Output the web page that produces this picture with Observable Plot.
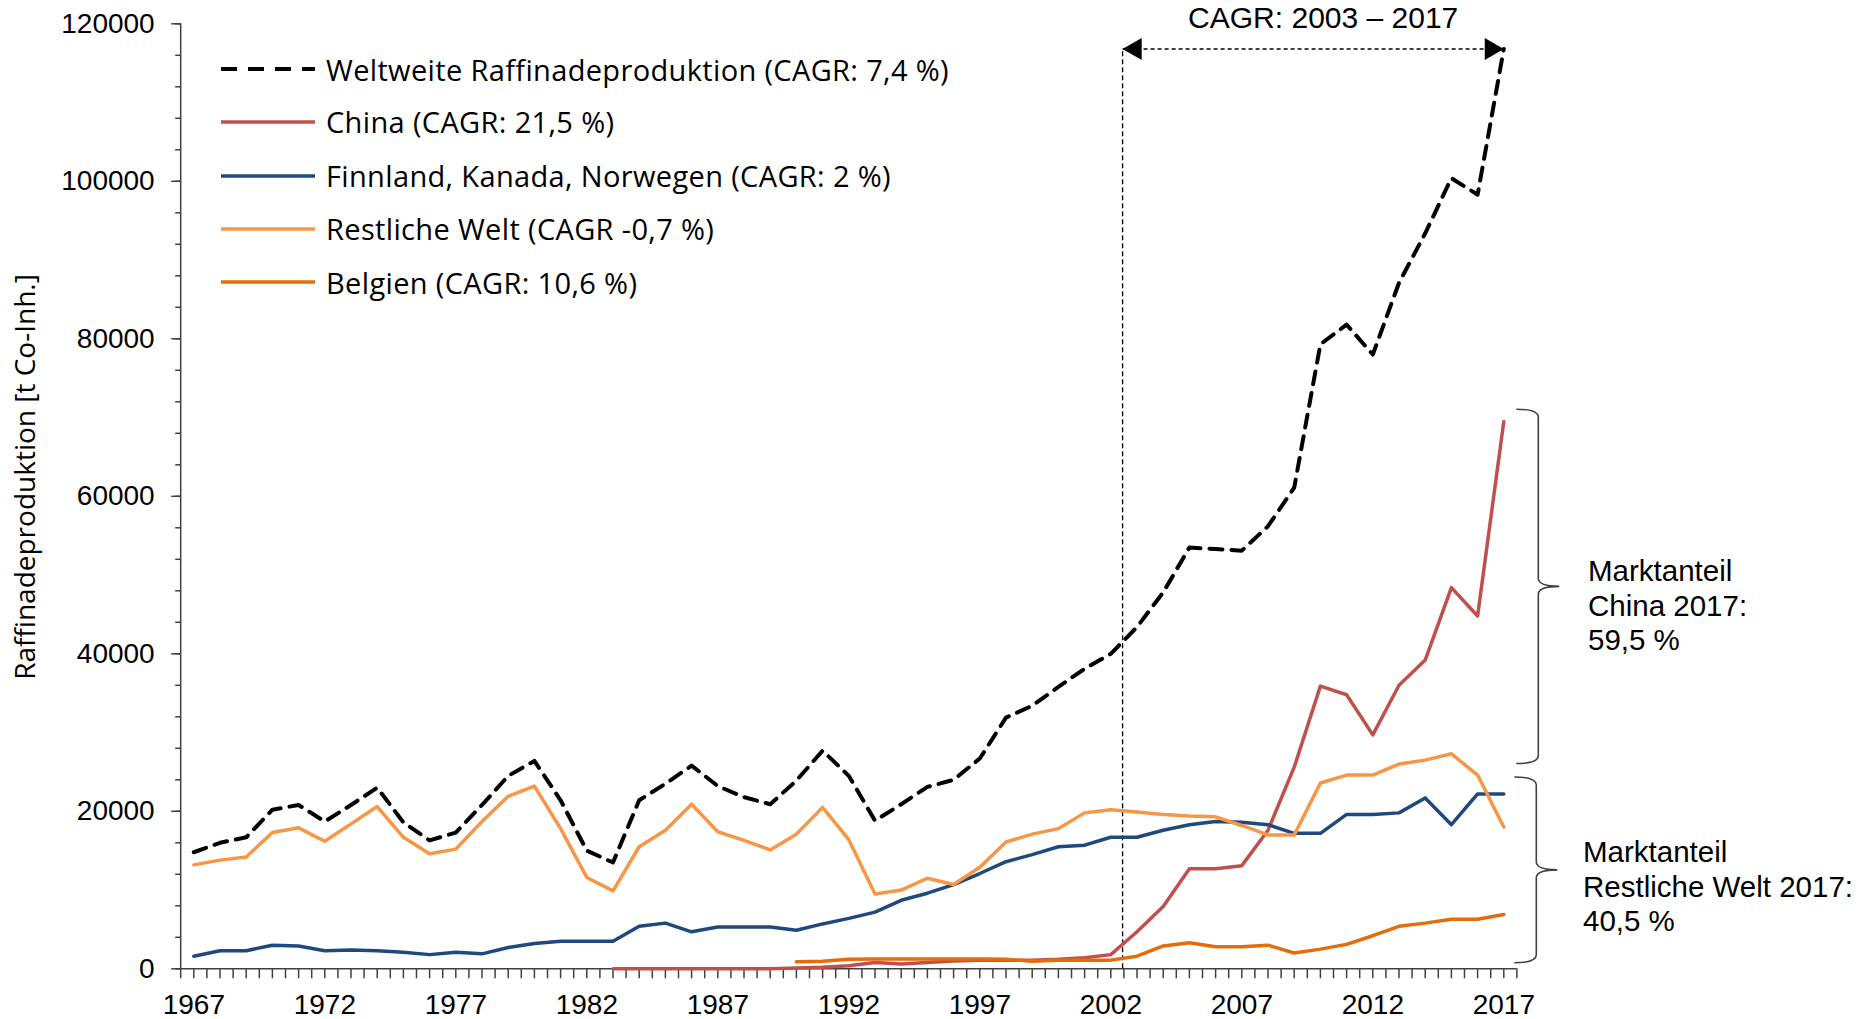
<!DOCTYPE html>
<html>
<head>
<meta charset="utf-8">
<script src="https://cdn.jsdelivr.net/npm/d3@7"></script>
<script src="https://cdn.jsdelivr.net/npm/@observablehq/plot@0.6"></script>
<style>
html, body { margin: 0; padding: 0; background: #fff; }
#wrap { position: relative; width: 1869px; height: 1019px; overflow: hidden; background: #fff; }
#wrap > svg { position: absolute; left: 0; top: 0; }
.legrow { position: absolute; left: 220px; height: 40px; display: flex; align-items: center; font-family: "Open Sans", Lato, sans-serif; font-size: 29px; letter-spacing: 0.35px; color: #000; white-space: nowrap; }
.legrow svg { margin-right: 10px; }
.note { position: absolute; font-family: "Liberation Sans", Arial, sans-serif; font-size: 29.5px; line-height: 34.6px; color: #000; white-space: nowrap; }
.ytitle { position: absolute; font-family: "Open Sans", Lato, sans-serif; font-size: 28px; color: #000; white-space: nowrap; transform: translate(-50%, -50%) rotate(-90deg); }
</style>
</head>
<body>
<div id="wrap"></div>
<script>
// ---------------- data ----------------
const firstYear = 1967;
const lastYear = 2017;
const world = [14800,16000,16700,20200,20800,18700,20800,23000,18600,16300,
  17300,20800,24500,26400,21400,15000,13500,21400,23500,25800,
  23200,21800,20900,23900,27700,24500,18800,20900,23100,24000,
  26700,31900,33400,35800,38100,40000,43400,47800,53500,53300,
  53100,56200,61100,79300,81800,78000,87100,93400,100400,98300,
  116800];
const restWorld = [13200,13800,14200,17300,17900,16200,18400,20600,16700,14600,
  15200,18700,21900,23200,17800,11600,9900,15500,17600,20900,
  17400,16300,15100,17100,20500,16400,9500,10000,11500,10700,
  12900,16100,17100,17800,19800,20200,19900,19600,19400,19300,
  18200,17000,17000,23600,24600,24600,26000,26500,27300,24600,
  18000];
const finKanNor = [1600,2300,2300,3000,2900,2300,2400,2300,2100,1800,
  2100,1900,2700,3200,3500,3500,3500,5400,5800,4700,
  5300,5300,5300,4900,5700,6400,7200,8700,9600,10700,
  12100,13600,14500,15500,15700,16700,16700,17600,18300,18700,
  18600,18300,17200,17200,19600,19600,19800,21700,18300,22200,
  22200];
const chinaStart = 1983;
const china = [0,0,0,0,0,0,0,100,200,400,
  800,600,800,1000,1100,1100,1100,1200,1400,1800,
  4700,7900,12700,12700,13100,17600,25600,35900,34800,29700,
  36000,39200,48400,44800,69500];
const belgienStart = 1990;
const belgien = [900,950,1200,1250,1250,1250,1250,1250,1200,950,
  1100,1100,1100,1600,2900,3300,2800,2800,3000,2000,
  2500,3100,4200,5400,5800,6300,6300,6900];

const legendLabels = [
  "Weltweite Raffinadeproduktion (CAGR: 7,4 %)",
  "China (CAGR: 21,5 %)",
  "Finnland, Kanada, Norwegen (CAGR: 2 %)",
  "Restliche Welt (CAGR -0,7 %)",
  "Belgien (CAGR: 10,6 %)"
];
const yTickValues = [0, 20000, 40000, 60000, 80000, 100000, 120000];
const xTickLabels = [1967, 1972, 1977, 1982, 1987, 1992, 1997, 2002, 2007, 2012, 2017];
const yTitle = "Raffinadeproduktion [t Co-Inh.]";
const cagrLabel = "CAGR: 2003 – 2017";
const cagrMarkerYear = 2002.45;
const shareChina = ["Marktanteil", "China 2017:", "59,5 %"];
const shareRest = ["Marktanteil", "Restliche Welt 2017:", "40,5 %"];
const braceRanges = [[71000, 26000], [24300, 700]];

// ---------------- styles ----------------
const cWorld = "#000000", cChina = "#C0504D", cFKN = "#1F497D", cRest = "#F79646", cBel = "#E46C0A";
const axisColor = "#404040";
const dash = "13,9";

const xDomain = [firstYear - 0.5, lastYear + 0.5];
const yDomain = [0, 120000];
const series = (arr, start) => arr.map((v, i) => ({year: start + i, value: v}));
const sWorld = series(world, firstYear);
const sRest = series(restWorld, firstYear);
const sFKN = series(finKanNor, firstYear);
const sChina = series(china, chinaStart);
const sBel = series(belgien, belgienStart);
const wLast = world[world.length - 1];

const minorY = d3.range(0, 120001, 4000);
const halfYears = d3.range(xDomain[0], xDomain[1] + 0.01, 0.5);

function braceMark(index, scales) {
  const g = d3.create("svg:g");
  const x0 = scales.x(lastYear) + 35;
  braceRanges.forEach(([top, bot], k) => {
    const xv = x0 - k * 2;
    const yt = scales.y(top), yb = scales.y(bot), ym = (yt + yb) / 2;
    const xl = xv - 22, xt = xv + 21, r = 8;
    const p = `M${xl},${yt} Q${xv},${yt} ${xv},${yt + r} L${xv},${ym - r} Q${xv},${ym} ${xt},${ym} Q${xv},${ym} ${xv},${ym + r} L${xv},${yb - r} Q${xv},${yb} ${xl},${yb}`;
    g.append("path").attr("d", p).attr("fill", "none").attr("stroke", axisColor).attr("stroke-width", 1.6);
  });
  return g.node();
}

const chart = Plot.plot({
  width: 1869,
  height: 1019,
  marginLeft: 180.2,
  marginRight: 352.6,
  marginTop: 23.3,
  marginBottom: 50.7,
  x: {domain: xDomain},
  y: {domain: yDomain},
  style: {fontFamily: "'Liberation Sans', Arial, sans-serif", fontSize: "28px", color: "#000", background: "#fff"},
  marks: [
    // axes
    Plot.axisY({ticks: minorY, tickSize: 5, tickFormat: () => "", label: null, stroke: axisColor, strokeWidth: 1.5}),
    Plot.axisY({ticks: yTickValues, tickSize: 9, tickPadding: 17, tickFormat: d => String(d), label: null, stroke: axisColor, strokeWidth: 1.5, fill: "#000"}),
    Plot.axisX({ticks: halfYears, tickSize: 10, tickFormat: () => "", label: null, stroke: axisColor, strokeWidth: 1.5}),
    Plot.axisX({ticks: xTickLabels, tickSize: 0, tickPadding: 25, tickFormat: d => String(d), label: null, fill: "#000"}),
    Plot.ruleY([yDomain[0]], {x1: xDomain[0], x2: xDomain[1], stroke: axisColor, strokeWidth: 1.5}),
    Plot.ruleX([xDomain[0]], {y1: yDomain[0], y2: yDomain[1], stroke: axisColor, strokeWidth: 1.5}),
    // CAGR marker
    Plot.ruleX([cagrMarkerYear], {y1: yDomain[0], y2: wLast, stroke: "#000", strokeWidth: 1.3, strokeDasharray: "5,3"}),
    Plot.link([0], {x1: cagrMarkerYear, x2: lastYear, y1: wLast, y2: wLast, stroke: "#000", strokeWidth: 1.3, strokeDasharray: "4,3"}),
    Plot.dot([0], {x: cagrMarkerYear, y: wLast, symbol: "triangle", r: 8.2, rotate: -90, dx: 12.7, fill: "#000", stroke: null}),
    Plot.dot([0], {x: lastYear, y: wLast, symbol: "triangle", r: 8.2, rotate: 90, dx: -12.7, fill: "#000", stroke: null}),
    Plot.text([cagrLabel], {x: (cagrMarkerYear + lastYear) / 2, y: wLast, text: d => d, dy: -31, dx: 10, fontSize: 30}),
    // series
    Plot.line(sChina, {x: "year", y: "value", stroke: cChina, strokeWidth: 3.5}),
    Plot.line(sFKN, {x: "year", y: "value", stroke: cFKN, strokeWidth: 3.5}),
    Plot.line(sRest, {x: "year", y: "value", stroke: cRest, strokeWidth: 3.5}),
    Plot.line(sBel, {x: "year", y: "value", stroke: cBel, strokeWidth: 3.5}),
    Plot.line(sWorld, {x: "year", y: "value", stroke: cWorld, strokeWidth: 4, strokeDasharray: dash}),
    braceMark
  ]
});

const wrap = document.getElementById("wrap");
wrap.appendChild(chart);

// legend
const legColors = [cWorld, cChina, cFKN, cRest, cBel];
const legCenters = [69, 121.7, 175.5, 228.5, 282];
legendLabels.forEach((lab, i) => {
  const row = document.createElement("div");
  row.className = "legrow";
  row.style.top = (legCenters[i] - 20) + "px";
  const isDash = i === 0;
  row.innerHTML = `<svg width="96" height="10"><line x1="1" y1="5" x2="95" y2="5" stroke="${legColors[i]}" stroke-width="${isDash ? 4 : 3.5}" ${isDash ? 'stroke-dasharray="16,11"' : ''}/></svg><span></span>`;
  row.querySelector("span").textContent = lab;
  wrap.appendChild(row);
});

// y title
const yt = document.createElement("div");
yt.className = "ytitle";
yt.style.left = "24px";
yt.style.top = "477px";
yt.textContent = yTitle;
wrap.appendChild(yt);

// market share notes
function note(lines, left, top) {
  const d = document.createElement("div");
  d.className = "note";
  d.style.left = left + "px";
  d.style.top = top + "px";
  lines.forEach((t, i) => {
    const s = document.createElement("div");
    s.textContent = t;
    d.appendChild(s);
  });
  wrap.appendChild(d);
}
note(shareChina, 1588, 554);
note(shareRest, 1583, 835);
</script>
</body>
</html>
